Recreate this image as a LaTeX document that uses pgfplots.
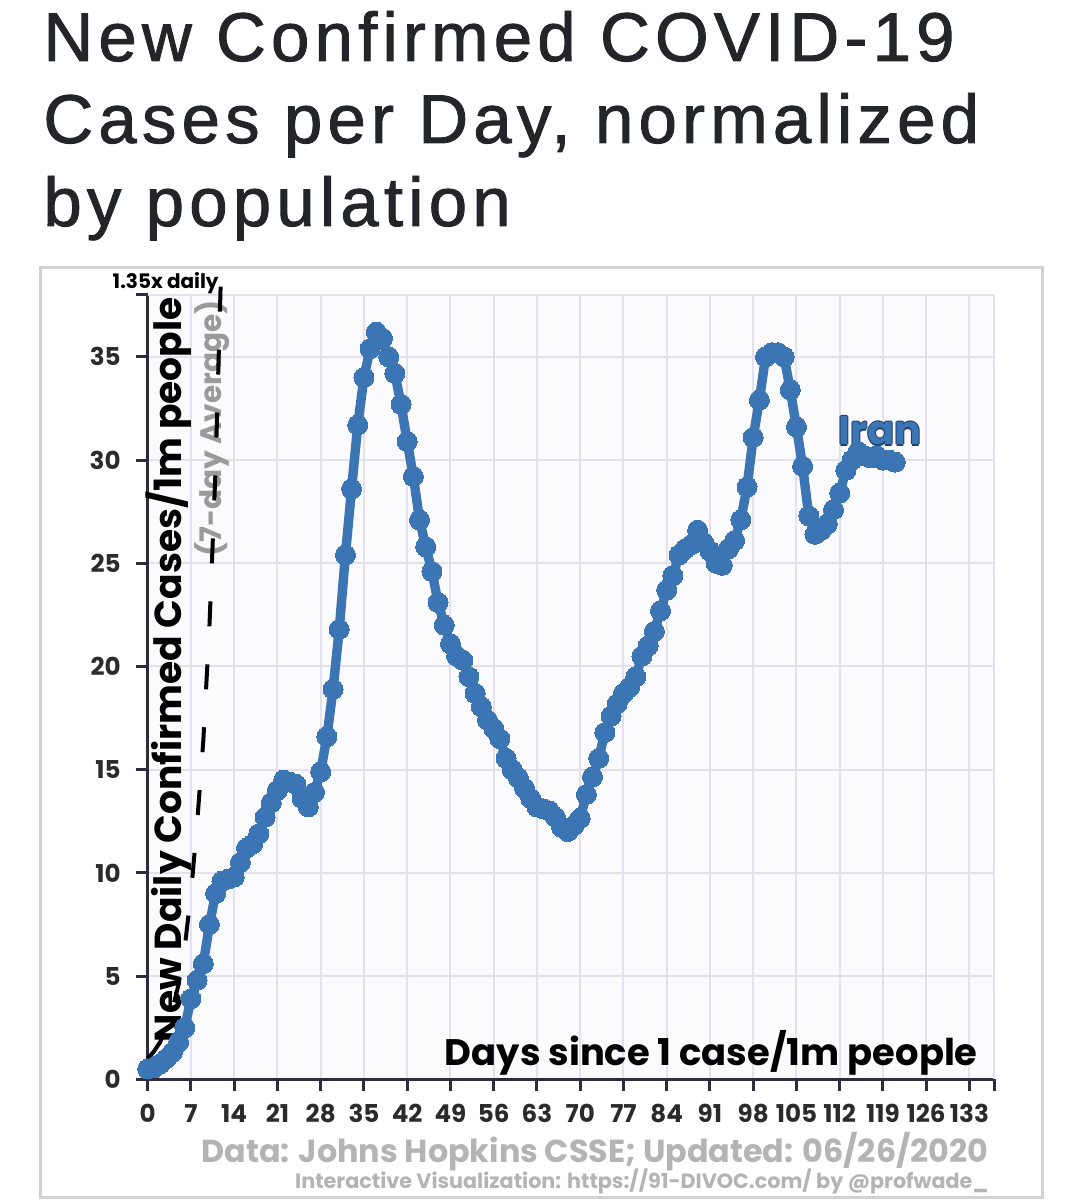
\documentclass[border=0pt]{standalone}
\usepackage{fontspec}
\usepackage{pgfplots}
\pgfplotsset{compat=1.18}
\setmainfont{Poppins}
\newfontfamily\titlefont[LetterSpace=7.5,FakeBold=1.3]{Liberation Sans}
\definecolor{iran}{HTML}{3B75B4}
\definecolor{iranedge}{HTML}{1F3F66}
\definecolor{titlecol}{HTML}{232529}
\definecolor{axiscol}{HTML}{2E2C3C}
\definecolor{gridcol}{HTML}{E4E0EE}
\definecolor{plotbg}{HTML}{FBFAFD}
\definecolor{framecol}{HTML}{D2D2D2}
\definecolor{ticklab}{HTML}{2B2B2B}
\definecolor{avggray}{HTML}{9A9A9A}
\definecolor{foot}{HTML}{B4B4B4}
\pgfplotstableread{
day val
0 0.5
1 0.55
2 0.75
3 1.0
4 1.3
5 1.8
6 2.5
7 3.9
8 4.8
9 5.6
10 7.5
11 9.0
12 9.6
13 9.7
14 9.8
15 10.5
16 11.2
17 11.4
18 11.9
19 12.7
20 13.4
21 14.0
22 14.5
23 14.4
24 14.3
25 13.6
26 13.2
27 13.9
28 14.9
29 16.6
30 18.9
31 21.8
32 25.4
33 28.6
34 31.7
35 34.0
36 35.4
37 36.2
38 35.9
39 35.0
40 34.2
41 32.7
42 30.9
43 29.2
44 27.1
45 25.8
46 24.6
47 23.1
48 22.0
49 21.1
50 20.5
51 20.3
52 19.5
53 18.7
54 18.05
55 17.4
56 17.0
57 16.5
58 15.55
59 15.0
60 14.6
61 14.1
62 13.6
63 13.2
64 13.1
65 13.0
66 12.7
67 12.2
68 12.0
69 12.3
70 12.65
71 13.8
72 14.65
73 15.55
74 16.8
75 17.6
76 18.2
77 18.7
78 19.0
79 19.5
80 20.5
81 21.0
82 21.7
83 22.7
84 23.7
85 24.4
86 25.4
87 25.7
88 25.9
89 26.6
90 26.0
91 25.6
92 25.0
93 24.9
94 25.7
95 26.1
96 27.1
97 28.7
98 31.1
99 32.9
100 35.0
101 35.2
102 35.2
103 35.0
104 33.4
105 31.6
106 29.7
107 27.3
108 26.4
109 26.6
110 26.9
111 27.6
112 28.4
113 29.5
114 30.0
115 30.4
116 30.2
117 30.1
118 30.2
119 30.0
120 30.0
121 29.9
}\iranTable
\begin{document}
\begin{tikzpicture}[x=0.5bp,y=0.5bp]
\useasboundingbox (0,0) rectangle (1082,-1200);
\fill[white] (0,0) rectangle (1082,-1200);
\draw[framecol, line width=1.5bp, fill=white] (40,-268) rectangle (1042,-1197);
% title
\begin{scope}[every node/.style={anchor=base west, inner sep=0, text=titlecol, font=\titlefont\fontsize{34.5bp}{41bp}\selectfont}]
\node at (43,-61) {New Confirmed COVID-19};
\node at (43,-143) {Cases per Day, normalized};
\node at (43,-226) {by population};
\end{scope}
\begin{axis}[
  at={(73.85bp,-539.65bp)}, anchor=south west,
  scale only axis, width=423.2bp, height=392.2bp,
  xmin=0, xmax=137, ymin=0, ymax=38,
  enlargelimits=false, clip=false,
  axis x line*=bottom, axis y line*=left,
  axis line style={-, draw=axiscol, line width=1.5bp},
  xtick={0,7,...,133}, ytick={0,5,...,35},
  extra x ticks={137}, extra x tick labels={},
  extra y ticks={38}, extra y tick labels={},
  extra tick style={grid=major},
  grid=major,
  major grid style={draw=gridcol, line width=1bp},
  tick align=outside, major tick length=6bp,
  tick style={draw=axiscol, line width=1.5bp},
  axis background/.style={fill=plotbg},
  tick label style={font=\bfseries\fontsize{12.3bp}{14bp}\selectfont, text=ticklab},
  xticklabel style={yshift=-3bp},
  yticklabel style={xshift=-4bp},
  /pgf/number format/assume math mode=true,
]
% labels under the data
\node[rotate=90, anchor=base east, inner sep=0, font=\fontsize{18.8bp}{21bp}\selectfont\bfseries, text=black] at (axis cs:5.55,37.9) {New Daily Confirmed Cases/1m people};
\node[rotate=90, anchor=base east, inner sep=0, font=\fontsize{14.8bp}{17bp}\selectfont\bfseries, text=avggray] at (axis cs:11.98,37.76) {(7-day Average)};
\node[anchor=base east, inner sep=0, font=\fontsize{18.45bp}{20bp}\selectfont\bfseries, text=black] at (axis cs:134.4,0.69) {Days since 1 case/1m people};
% 1.35x daily reference line
\addplot[black, line width=2bp, dash pattern=on 12.5bp off 19bp] coordinates {
(0,1.0) (1,1.35) (2,1.8) (3,2.5) (4,3.4) (5,4.6) (6,6.4) (7,9.0) (8,12.4) (9,16.4) (10,22.0) (11,29.7) (11.8,38.4)};
% Iran
\addplot[iran, line width=4.7bp, line join=round, mark=*, mark size=5bp, mark options={fill=iran, draw=iran, line width=0pt, solid}] table[x=day, y=val] {\iranTable};
\begin{scope}[every node/.style={anchor=center, inner sep=0, font=\fontsize{20bp}{22bp}\selectfont\bfseries, text=iranedge}]
\node[xshift=0.6bp] at (axis cs:118.55,31.41) {Iran};
\node[xshift=-0.6bp] at (axis cs:118.55,31.41) {Iran};
\node[yshift=0.6bp] at (axis cs:118.55,31.41) {Iran};
\node[yshift=-0.6bp] at (axis cs:118.55,31.41) {Iran};
\node[text=iran] at (axis cs:118.55,31.41) {Iran};
\end{scope}
\end{axis}
\node[anchor=base east, inner sep=0, font=\fontsize{10bp}{12bp}\selectfont\bfseries, text=black] at (219,-289) {1.35x daily};
\node[anchor=base east, inner sep=0, font=\fontsize{15.9bp}{17bp}\selectfont\bfseries, text=foot] at (989,-1162.7) {Data: Johns Hopkins CSSE; Updated: 06/26/2020};
\node[anchor=base east, inner sep=0, font=\fontsize{10.35bp}{12bp}\selectfont\bfseries, text=foot] at (989,-1188) {Interactive Visualization: https://91-DIVOC.com/ by @profwade\_};
\end{tikzpicture}
\end{document}
